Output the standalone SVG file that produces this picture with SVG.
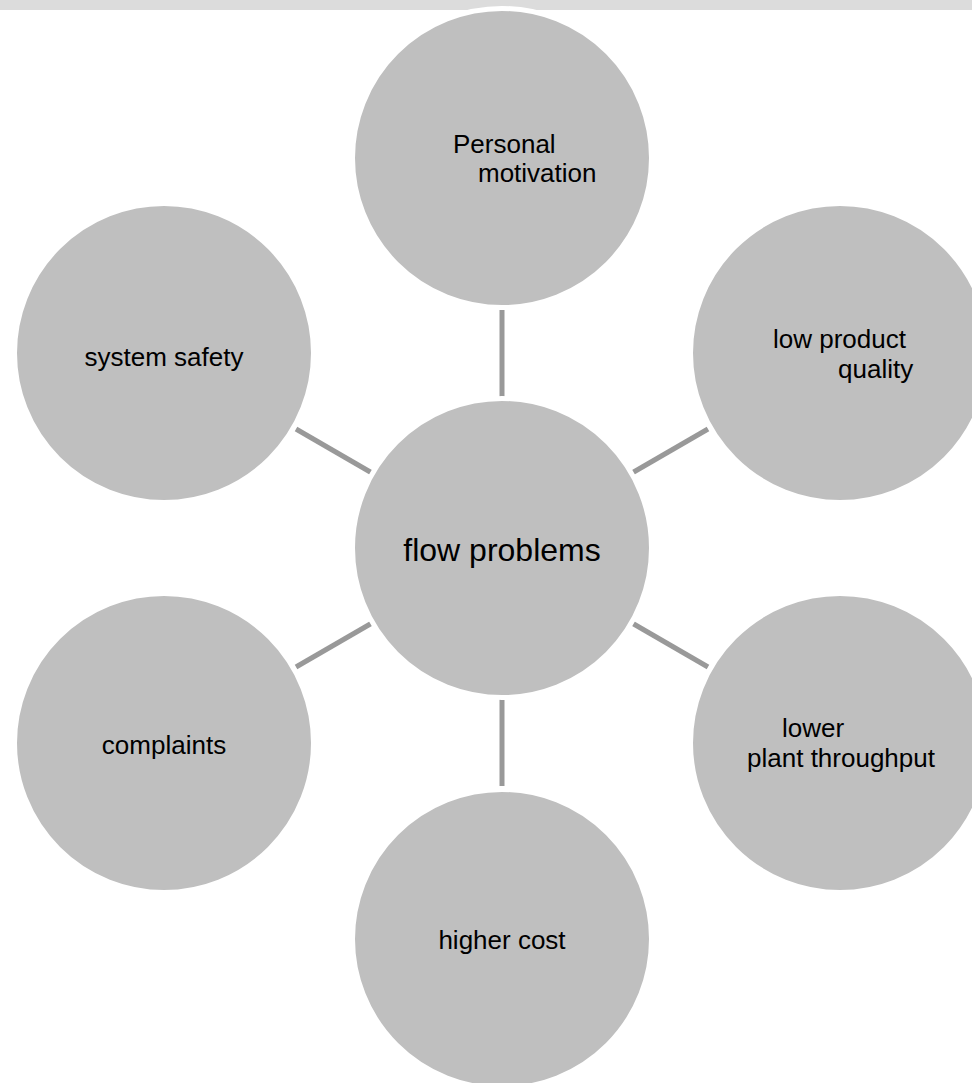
<svg xmlns="http://www.w3.org/2000/svg" width="972" height="1083" viewBox="0 0 972 1083">
<style>
.node{fill:#bfbfbf;stroke:#ffffff;stroke-width:5}
.lbl{font-family:"Liberation Sans",Arial,sans-serif;font-size:26px;fill:#000000}
.conn line{stroke:#999999;stroke-width:5}
</style>
<rect x="0" y="0" width="972" height="10" fill="#dcdcdc"/>
<g id="connectors" class="conn">
<line x1="502" y1="398" x2="502" y2="310"/>
<line x1="502" y1="698" x2="502" y2="786"/>
<line x1="632" y1="473" x2="708" y2="429"/>
<line x1="632" y1="623" x2="708" y2="667"/>
<line x1="372" y1="473" x2="296" y2="429"/>
<line x1="372" y1="623" x2="296" y2="667"/>
</g>
<g id="node-top">
<circle class="node" cx="502" cy="158" r="149.5"/>
<text class="lbl" x="453" y="153">Personal</text>
<text class="lbl" x="478" y="182">motivation</text>
</g>
<g id="node-top-right">
<circle class="node" cx="840" cy="353" r="149.5"/>
<text class="lbl" x="773" y="348">low product</text>
<text class="lbl" x="838" y="378">quality</text>
</g>
<g id="node-bottom-right">
<circle class="node" cx="840" cy="743" r="149.5"/>
<text class="lbl" x="782" y="737">lower</text>
<text class="lbl" x="841" y="767" text-anchor="middle">plant throughput</text>
</g>
<g id="node-bottom">
<circle class="node" cx="502" cy="939" r="149.5"/>
<text class="lbl" x="502" y="949" text-anchor="middle">higher cost</text>
</g>
<g id="node-bottom-left">
<circle class="node" cx="164" cy="743" r="149.5"/>
<text class="lbl" x="164" y="754" text-anchor="middle">complaints</text>
</g>
<g id="node-top-left">
<circle class="node" cx="164" cy="353" r="149.5"/>
<text class="lbl" x="164" y="366" text-anchor="middle">system safety</text>
</g>
<g id="node-center">
<circle class="node" cx="502" cy="548" r="149.5"/>
<text class="lbl" x="502" y="561" text-anchor="middle" style="font-size:32px">flow problems</text>
</g>
</svg>
